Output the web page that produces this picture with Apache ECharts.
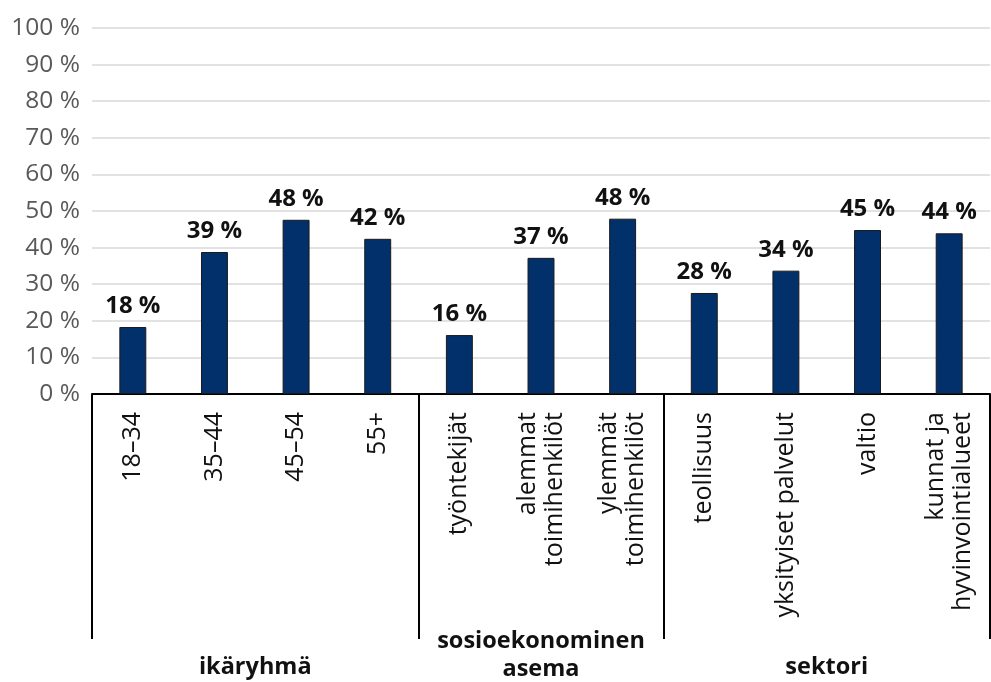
<!DOCTYPE html>
<html><head><meta charset="utf-8">
<script src="https://cdn.jsdelivr.net/npm/echarts@6/dist/echarts.min.js"></script>
<style>html,body{margin:0;padding:0;background:#fff}#c{width:991px;height:682px}</style>
</head><body><div id="c"></div>
<script>
var categories = ['18–34','35–44','45–54','55+','työntekijät','alemmat\ntoimihenkilöt','ylemmät\ntoimihenkilöt','teollisuus','yksityiset palvelut','valtio','kunnat ja\nhyvinvointialueet'];
var values = [18.3, 38.8, 47.6, 42.4, 16.1, 37.2, 47.9, 27.6, 33.7, 44.8, 43.9];
var groupNames = ['ikäryhmä','sosioekonominen\nasema','sektori'];
var groupStart = [0, 4, 7];
var groupEnd = [3, 6, 10];
var yTicks = [0,10,20,30,40,50,60,70,80,90,100];

var FONT = '"Open Sans", "Noto Sans", sans-serif';
var chart = echarts.init(document.getElementById('c'), null, {renderer:'canvas'});
var option = {
  animation: false,
  grid: {left: 92, right: 1, top: 28, bottom: 288, containLabel: false},
  xAxis: {
    type: 'category', data: categories, boundaryGap: true,
    axisLine: {show: true, lineStyle: {color: '#000', width: 2}},
    axisTick: {show: true, length: 245, lineStyle: {color: '#000', width: 2},
      interval: function(i){ return groupStart.indexOf(i) >= 0; }},
    axisLabel: {rotate: 90, fontSize: 25, color: '#111', fontFamily: FONT, margin: 18, lineHeight: 27, interval: 0}
  },
  yAxis: {
    type: 'value', min: yTicks[0], max: yTicks[yTicks.length-1], interval: 10,
    axisLine: {show: false}, axisTick: {show: false},
    splitLine: {lineStyle: {color: '#d9d9d9', width: 1.5}},
    axisLabel: {formatter: '{value} %', fontSize: 24.5, color: '#595959', fontFamily: FONT, margin: 12}
  },
  series: [{
    type: 'bar', data: values, barWidth: '33%',
    itemStyle: {color: '#02306b', borderColor: '#1a1a1a', borderWidth: 1},
    label: {show: true, position: 'top', distance: 9, fontSize: 24, fontWeight: 'bold', color: '#111', fontFamily: FONT,
      formatter: function(p){ return Math.round(p.value) + ' %'; }}
  }]
};
chart.setOption(option);
var gfx = [];
for (var g = 0; g < groupNames.length; g++) {
  var x1 = chart.convertToPixel({xAxisIndex: 0}, categories[groupStart[g]]);
  var x2 = chart.convertToPixel({xAxisIndex: 0}, categories[groupEnd[g]]);
  var y0 = chart.convertToPixel({yAxisIndex: 0}, 0);
  var cx = (x1 + x2) / 2;
  var twoLine = groupNames[g].indexOf('\n') >= 0;
  gfx.push({type: 'text', x: cx, y: twoLine ? y0 + 261 : y0 + 273,
    style: {text: groupNames[g], align: 'center', verticalAlign: 'middle', font: 'bold 23.5px ' + FONT, fill: '#111', lineHeight: 28}});
}
chart.setOption({graphic: gfx});
</script></body></html>
